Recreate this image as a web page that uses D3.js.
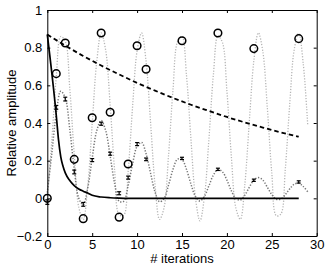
<!DOCTYPE html>
<html><head><meta charset="utf-8">
<script src="https://cdn.jsdelivr.net/npm/d3@7"></script>
<style>body{margin:0;background:#fff}svg{display:block}text{font-family:"Liberation Sans",Arial,sans-serif;fill:#000}</style>
</head><body><svg id="c" width="327" height="266"></svg>
<script>
// x positions of the fine-grid curves (step 0.5)
const gridX = d3.range(0, 29.01, 0.5);
// light gray dotted curve
const lightY = [-0.003,0.303,0.648,0.859,0.834,0.585,0.233,-0.046,-0.113,0.063,0.396,0.722,0.878,0.787,0.496,0.147,-0.087,-0.090,0.140,0.489,0.783,0.878,0.727,0.403,0.069,-0.112,-0.050,0.227,0.578,0.831,0.861,0.654,0.311,0.002,-0.120,0.009,0.317,0.659,0.863,0.828,0.571,0.220,-0.052,-0.111,0.075,0.410,0.731,0.879,0.780,0.482,0.134,-0.092,-0.084,0.153,0.502,0.791,0.877,0.716,0.389];
// darker gray dotted curve
const darkY = [0.031,0.237,0.452,0.569,0.533,0.368,0.157,0.001,-0.034,0.055,0.214,0.358,0.413,0.360,0.225,0.078,-0.015,-0.016,0.067,0.184,0.276,0.297,0.237,0.134,0.033,-0.018,-0.001,0.070,0.154,0.208,0.206,0.154,0.075,0.010,-0.014,0.011,0.067,0.124,0.153,0.141,0.097,0.040,-0.001,-0.009,0.017,0.059,0.097,0.110,0.097,0.059,0.020,-0.005,-0.004,0.019,0.051,0.075,0.080,0.063,0.035];
// solid black decay
const solidX = [0,1,1.25,1.5,1.75,2,2.5,3,3.5,4,4.5,5,6,7,8,9,28];
const solidY = [0.87,0.44,0.31,0.22,0.17,0.135,0.095,0.068,0.05,0.038,0.028,0.016,0.007,0.003,0.001,0,0];
// dashed decay
const dashX = [0,2,4,6,8,10,12,14,16,18,20,22,24,26,28];
const dashY = [0.870,0.811,0.756,0.705,0.658,0.613,0.572,0.533,0.497,0.464,0.432,0.403,0.376,0.350,0.327];
// circles
const circX = [0,1,2,3,4,5,6,7,8,9,10,11,15,19,23,28];
const circY = [0,0.662,0.825,0.207,-0.108,0.428,0.878,0.457,-0.10,0.182,0.81,0.685,0.837,0.878,0.795,0.848];
// error-bar points
const errX = [0,1,2,3,4,5,6,7,8,9,10,11,15,19,23,28];
const errY = [-0.02,0.483,0.527,0.14,-0.032,0.203,0.396,0.237,0.027,0.11,0.288,0.207,0.212,0.154,0.096,0.087];
const errE = [0.012,0.01,0.01,0.01,0.01,0.008,0.008,0.008,0.008,0.008,0.008,0.007,0.006,0.006,0.006,0.006];
// ticks
const xTicks = [0,5,10,15,20,25,30];
const yTicks = [-0.2,0,0.2,0.4,0.6,0.8,1];
const yTickLabels = ["\u22120.2","0","0.2","0.4","0.6","0.8","1"];

const svg = d3.select("#c");
const L=47.3, R=316.7, T=10, B=236;
const x = d3.scaleLinear().domain([0,30]).range([L,R]);
const y = d3.scaleLinear().domain([-0.2,1]).range([B,T]);

const plot = svg.append("g");
const line = (xs, ys, curve) => d3.line().x((d,i)=>x(xs[i])).y(d=>y(d)).curve(curve)(ys);

plot.append("path").attr("d", line(gridX, lightY, d3.curveCatmullRom))
  .attr("fill","none").attr("stroke","#b5b5b5").attr("stroke-width",1.3).attr("stroke-dasharray","1.2,1.6");
plot.append("path").attr("d", line(gridX, darkY, d3.curveCatmullRom))
  .attr("fill","none").attr("stroke","#777").attr("stroke-width",1.5).attr("stroke-dasharray","1.3,1.6");
plot.append("path").attr("d", line(solidX, solidY, d3.curveMonotoneX))
  .attr("fill","none").attr("stroke","#000").attr("stroke-width",1.7);
plot.append("path").attr("d", line(dashX, dashY, d3.curveMonotoneX))
  .attr("fill","none").attr("stroke","#000").attr("stroke-width",1.8).attr("stroke-dasharray","4.5,3");

plot.selectAll("circle.m").data(circY).join("circle").attr("class","m")
  .attr("cx",(d,i)=>x(circX[i])).attr("cy",d=>y(d)).attr("r",3.8)
  .attr("fill","none").attr("stroke","#000").attr("stroke-width",1.5);

const eb = plot.selectAll("g.eb").data(errY).join("g").attr("class","eb");
eb.append("line").attr("x1",(d,i)=>x(errX[i])).attr("x2",(d,i)=>x(errX[i]))
  .attr("y1",(d,i)=>y(d-errE[i])).attr("y2",(d,i)=>y(d+errE[i])).attr("stroke","#000").attr("stroke-width",1.2);
eb.append("line").attr("x1",(d,i)=>x(errX[i])-2).attr("x2",(d,i)=>x(errX[i])+2)
  .attr("y1",(d,i)=>y(d-errE[i])).attr("y2",(d,i)=>y(d-errE[i])).attr("stroke","#000").attr("stroke-width",1.2);
eb.append("line").attr("x1",(d,i)=>x(errX[i])-2).attr("x2",(d,i)=>x(errX[i])+2)
  .attr("y1",(d,i)=>y(d+errE[i])).attr("y2",(d,i)=>y(d+errE[i])).attr("stroke","#000").attr("stroke-width",1.2);

// axes (MATLAB style, ticks inward on all sides)
const tk = 3;
const axB = svg.append("g").attr("transform",`translate(0,${B})`)
  .call(d3.axisBottom(x).tickValues(xTicks).tickSizeInner(-tk).tickSizeOuter(0).tickPadding(4));
const axT = svg.append("g").attr("transform",`translate(0,${T})`)
  .call(d3.axisTop(x).tickValues(xTicks).tickSizeInner(-tk).tickSizeOuter(0).tickFormat(""));
const axL = svg.append("g").attr("transform",`translate(${L},0)`)
  .call(d3.axisLeft(y).tickValues(yTicks).tickSizeInner(-tk).tickSizeOuter(0).tickPadding(5)
    .tickFormat((d,i)=>yTickLabels[i]));
const axR = svg.append("g").attr("transform",`translate(${R},0)`)
  .call(d3.axisRight(y).tickValues(yTicks).tickSizeInner(-tk).tickSizeOuter(0).tickFormat(""));
[axB,axT,axL,axR].forEach(a=>{
  a.select(".domain").attr("stroke","#000").attr("stroke-width",1);
  a.selectAll(".tick line").attr("stroke","#000");
  a.selectAll("text").attr("font-size",13).attr("font-family","Liberation Sans, Arial, sans-serif").attr("fill","#000");
});

svg.append("text").attr("x",(L+R)/2).attr("y",263).attr("text-anchor","middle").attr("font-size",13).text("# iterations");
svg.append("text").attr("transform",`translate(16,${(T+B)/2}) rotate(-90)`).attr("text-anchor","middle").attr("font-size",13).text("Relative amplitude");
</script></body></html>
